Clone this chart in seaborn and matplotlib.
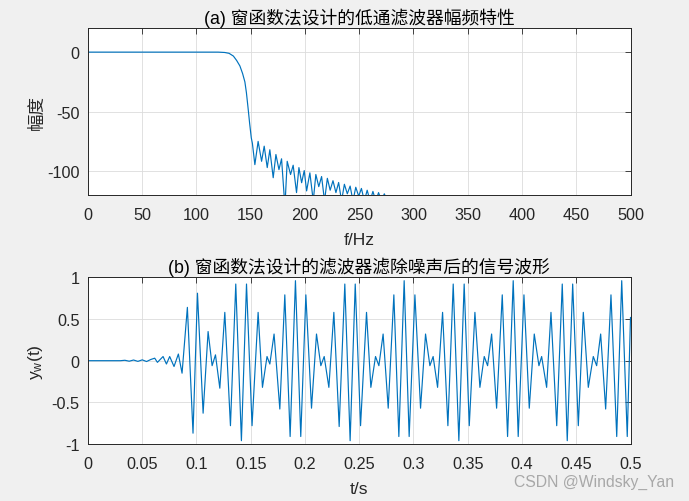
import numpy as np
import pandas as pd
import matplotlib
matplotlib.use("Agg")
import matplotlib.pyplot as plt
import seaborn as sns

# ---- (a) magnitude response (Hz, dB) ----
freq_hz = [0, 50, 100, 120, 126, 130, 134, 137, 140, 142.5, 144.6, 146, 147.6, 149,
           150.5, 151.5, 153.8, 156.8, 160.0, 162.4, 165.2, 167.6, 170.7, 173.2, 176.0,
           178.4, 181.5, 183.6, 186.7, 189.1, 192.2, 194.4, 196.9, 199.3, 201.5, 204.5,
           207.6, 210.0, 212.7, 215.3, 218.0, 220.6, 223.2, 225.8, 228.5, 231.0, 233.7,
           236.3, 239.0, 241.6, 244.2, 246.8, 249.5, 252.0, 254.7, 257.3, 260.0, 262.6,
           265.2, 267.8, 270.5, 273.1, 275.7, 278.3, 281.0, 500]
mag_db = [0, 0, 0, 0, -0.3, -1, -3.3, -7, -11.6, -18, -25, -34, -47.5, -60,
          -72, -76.5, -94.5, -75, -91.7, -79, -97, -82, -105.5, -86, -98.7,
          -89.6, -130, -91.7, -102.8, -95, -118, -97, -109.7, -99.5, -116.6, -101.4,
          -125, -102.8, -113, -104.5, -125, -106, -116, -108, -118, -109.5, -125,
          -111, -119, -112.5, -125, -113.5, -121, -114.5, -125, -116, -125, -117,
          -125, -118, -125, -119, -125, -121, -130, -150]

# ---- (b) filtered signal, extrema (s, value) ----
t_s = [0.000, 0.030, 0.034, 0.038, 0.042, 0.046, 0.050, 0.054, 0.058, 0.0615, 0.064,
       0.0692, 0.0723, 0.0753, 0.0793, 0.0833, 0.0867, 0.0916, 0.0968, 0.1009, 0.1061,
       0.1107, 0.1144, 0.1175, 0.1215, 0.1261, 0.1313, 0.1362, 0.1414, 0.1461, 0.1512,
       0.1568, 0.1608, 0.1650, 0.1676, 0.1715, 0.1768, 0.1814, 0.1863, 0.1912, 0.1961,
       0.2008, 0.2060, 0.2106, 0.2146, 0.2177, 0.2220, 0.2266, 0.2315, 0.2367, 0.2416,
       0.2463, 0.2512, 0.2567, 0.2607, 0.2650, 0.2681, 0.2720, 0.2767, 0.2819, 0.2865,
       0.2914, 0.2960, 0.3013, 0.3065, 0.3111, 0.3151, 0.3181, 0.3222, 0.3268, 0.3317,
       0.3366, 0.3418, 0.3467, 0.3514, 0.3566, 0.3612, 0.3652, 0.3683, 0.3720, 0.3766,
       0.3818, 0.3867, 0.3919, 0.3965, 0.4018, 0.4067, 0.4113, 0.4156, 0.4181, 0.4227,
       0.4267, 0.4320, 0.4371, 0.4417, 0.4467, 0.4519, 0.4565, 0.4611, 0.4657, 0.4688,
       0.4725, 0.4771, 0.4820, 0.4873, 0.4919, 0.4970, 0.5000]
y_w = [0.0, 0.0, 0.005, -0.006, 0.008, -0.008, 0.01, -0.01, 0.015, 0.03, -0.02,
       0.05, -0.04, 0.05, -0.07, 0.08, -0.15, 0.64, -0.87, 0.81, -0.63,
       0.35, -0.06, 0.07, -0.33, 0.58, -0.78, 0.92, -0.96, 0.92, -0.78,
       0.58, -0.32, 0.05, -0.04, 0.32, -0.58, 0.79, -0.91, 0.96, -0.91,
       0.79, -0.57, 0.32, -0.06, 0.05, -0.32, 0.58, -0.79, 0.92, -0.96,
       0.92, -0.78, 0.58, -0.32, 0.05, -0.06, 0.32, -0.57, 0.79, -0.91,
       0.96, -0.91, 0.79, -0.57, 0.32, -0.06, 0.05, -0.32, 0.58, -0.78,
       0.92, -0.96, 0.92, -0.78, 0.58, -0.32, 0.05, -0.06, 0.32, -0.57,
       0.79, -0.91, 0.96, -0.91, 0.79, -0.57, 0.32, -0.06, 0.05, -0.32,
       0.58, -0.78, 0.92, -0.96, 0.92, -0.78, 0.58, -0.32, 0.05, -0.06,
       0.32, -0.58, 0.79, -0.91, 0.96, -0.91, 0.52]

# ---- ticks and texts ----
f_ticks = [0, 50, 100, 150, 200, 250, 300, 350, 400, 450, 500]
f_tick_labels = ["0", "50", "100", "150", "200", "250", "300", "350", "400", "450", "500"]
db_ticks = [-100, -50, 0]
db_tick_labels = ["-100", "-50", "0"]
t_ticks = [0, 0.05, 0.1, 0.15, 0.2, 0.25, 0.3, 0.35, 0.4, 0.45, 0.5]
t_tick_labels = ["0", "0.05", "0.1", "0.15", "0.2", "0.25", "0.3", "0.35", "0.4", "0.45", "0.5"]
y_ticks = [-1, -0.5, 0, 0.5, 1]
y_tick_labels = ["-1", "-0.5", "0", "0.5", "1"]
title_a = "(a) 窗函数法设计的低通滤波器幅频特性"
title_b = "(b) 窗函数法设计的滤波器滤除噪声后的信号波形"

sns.set_theme(style="white")
plt.rcParams["font.family"] = ["Liberation Sans", "Noto Sans CJK SC", "DejaVu Sans"]
plt.rcParams["axes.unicode_minus"] = False
plt.rcParams["mathtext.default"] = "regular"

LINE = "#0072BD"
AXC = "#262626"
TICK_FS = 11.7
LABEL_FS = 12.6
TITLE_FS = 12.8

fig = plt.figure(figsize=(6.89, 5.02), dpi=100, facecolor="#f0f0f0")
ax1 = fig.add_axes([0.1277, 0.6096, 0.7874, 0.332])
ax2 = fig.add_axes([0.1277, 0.1135, 0.7874, 0.332])


def style(ax):
    ax.set_facecolor("white")
    for s in ax.spines.values():
        s.set_color(AXC)
        s.set_linewidth(0.7)
        s.set_visible(True)
    ax.grid(True, color="#dcdcdc", linewidth=0.6)
    ax.set_axisbelow(True)
    ax.tick_params(direction="in", length=4, width=0.6, top=True, right=True,
                   labelsize=TICK_FS, colors=AXC)
    ax.tick_params(axis="x", pad=8.5)
    ax.tick_params(axis="y", pad=6)
    for lab in ax.get_xticklabels() + ax.get_yticklabels():
        lab.set_color(AXC)


df_a = pd.DataFrame({"f": freq_hz, "dB": mag_db})
sns.lineplot(data=df_a, x="f", y="dB", ax=ax1, color=LINE, linewidth=0.85,
             estimator=None, sort=False)
ax1.set_xlim(0, 500)
ax1.set_ylim(-120, 20)
ax1.set_xticks(f_ticks)
ax1.set_xticklabels(f_tick_labels)
ax1.set_yticks(db_ticks)
ax1.set_yticklabels(db_tick_labels)
ax1.set_xlabel("f/Hz", fontsize=LABEL_FS, color=AXC, labelpad=7.5)
ax1.set_ylabel("幅度", fontsize=LABEL_FS, color=AXC, labelpad=2)
ax1.set_title(title_a, fontsize=TITLE_FS, color="black", pad=4)
style(ax1)

df_b = pd.DataFrame({"t": t_s, "y": y_w})
sns.lineplot(data=df_b, x="t", y="y", ax=ax2, color=LINE, linewidth=0.85,
             estimator=None, sort=False)
ax2.set_xlim(0, 0.5)
ax2.set_ylim(-1, 1)
ax2.set_xticks(t_ticks)
ax2.set_xticklabels(t_tick_labels)
ax2.set_yticks(y_ticks)
ax2.set_yticklabels(y_tick_labels)
ax2.set_xlabel("t/s", fontsize=LABEL_FS, color=AXC, labelpad=7.5)
ax2.set_ylabel("y$_w$(t)", fontsize=LABEL_FS, color=AXC, labelpad=5)
ax2.set_title(title_b, fontsize=TITLE_FS, color="black", pad=4)
style(ax2)

fig.text(0.978, 0.038, "CSDN @Windsky_Yan", ha="right", va="center",
         color="#a8a8a8", fontsize=11.3)

fig.savefig("out.png", dpi=100, facecolor=fig.get_facecolor())
